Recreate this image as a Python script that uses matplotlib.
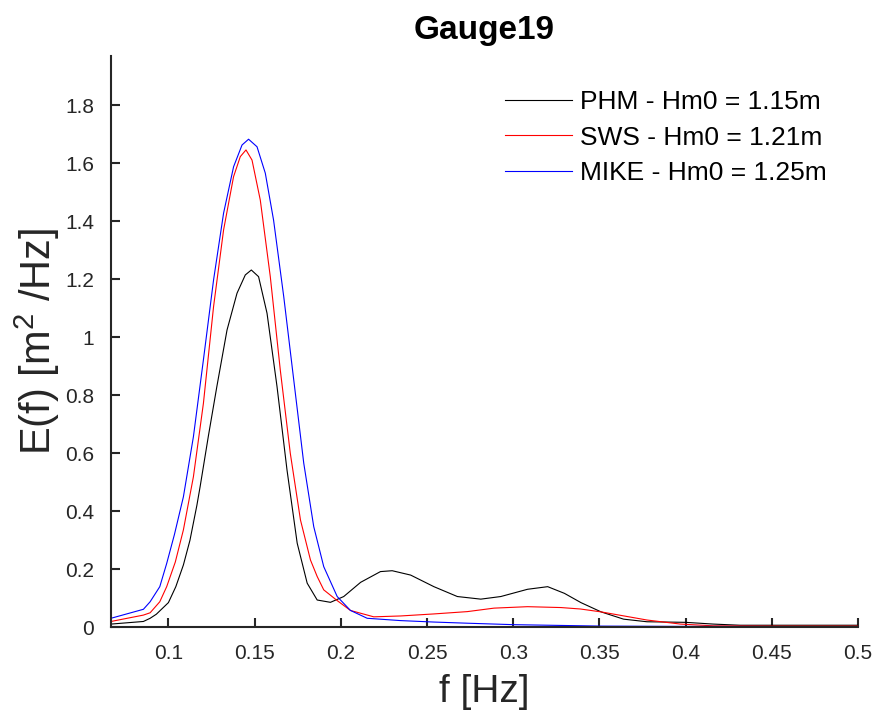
import matplotlib
matplotlib.use("Agg")
import matplotlib.pyplot as plt

plt.rcParams['font.family'] = ['Liberation Sans', 'DejaVu Sans']
plt.rcParams['mathtext.fontset'] = 'custom'
plt.rcParams['mathtext.rm'] = 'Liberation Sans'
plt.rcParams['mathtext.it'] = 'Liberation Sans'

# PHM spectrum
f_phm = [0.0667, 0.0855, 0.0894, 0.093, 0.1, 0.1043, 0.1087, 0.1125, 0.1165, 0.1184,
         0.1232, 0.1281, 0.134, 0.1398, 0.1446, 0.1481, 0.1523, 0.1572, 0.163, 0.1688,
         0.1747, 0.1805, 0.1863, 0.194, 0.2017, 0.2115, 0.223, 0.2298, 0.2405, 0.254,
         0.2676, 0.2812, 0.2928, 0.3083, 0.32, 0.3297, 0.3393, 0.351, 0.364, 0.3776,
         0.4, 0.416, 0.4316, 0.5]
e_phm = [0.011, 0.020, 0.031, 0.045, 0.085, 0.14, 0.215, 0.30, 0.42, 0.485,
         0.66, 0.83, 1.025, 1.152, 1.215, 1.232, 1.209, 1.083, 0.83, 0.542,
         0.29, 0.152, 0.094, 0.086, 0.106, 0.155, 0.192, 0.195, 0.18, 0.14,
         0.106, 0.097, 0.106, 0.131, 0.14, 0.117, 0.085, 0.053, 0.028, 0.019,
         0.017, 0.011, 0.007, 0.007]

# SWS spectrum
f_sws = [0.0667, 0.0855, 0.0894, 0.095, 0.099, 0.104, 0.1087, 0.1145, 0.1203, 0.1262,
         0.132, 0.1378, 0.1417, 0.145, 0.1485, 0.1533, 0.1591, 0.1649, 0.1707, 0.1766,
         0.1824, 0.1863, 0.1901, 0.1979, 0.2056, 0.2191, 0.2347, 0.254, 0.2734, 0.2889,
         0.3083, 0.3277, 0.339, 0.351, 0.3776, 0.397, 0.416, 0.45, 0.5]
e_sws = [0.020, 0.042, 0.050, 0.088, 0.14, 0.225, 0.336, 0.519, 0.772, 1.106,
         1.37, 1.554, 1.623, 1.646, 1.611, 1.473, 1.209, 0.887, 0.6, 0.37,
         0.232, 0.175, 0.129, 0.092, 0.058, 0.036, 0.039, 0.046, 0.054, 0.066,
         0.071, 0.068, 0.063, 0.053, 0.025, 0.011, 0.005, 0.004, 0.004]

# MIKE spectrum
f_mike = [0.0667, 0.0855, 0.0894, 0.095, 0.099, 0.1035, 0.1087, 0.1145, 0.1203, 0.1262,
          0.132, 0.1378, 0.1427, 0.1465, 0.1514, 0.1562, 0.161, 0.1669, 0.1727, 0.1785,
          0.1843, 0.1901, 0.1979, 0.2056, 0.2153, 0.2347, 0.254, 0.2734, 0.3, 0.331,
          0.351, 0.4, 0.5]
e_mike = [0.031, 0.062, 0.088, 0.14, 0.22, 0.32, 0.45, 0.657, 0.922, 1.198,
          1.428, 1.588, 1.663, 1.683, 1.657, 1.566, 1.404, 1.14, 0.853, 0.566,
          0.347, 0.209, 0.106, 0.058, 0.031, 0.023, 0.018, 0.014, 0.009, 0.006,
          0.004, 0.003, 0.002]

labels = ["PHM - Hm0 = 1.15m", "SWS - Hm0 = 1.21m", "MIKE - Hm0 = 1.25m"]
xticks = [0.1, 0.15, 0.2, 0.25, 0.3, 0.35, 0.4, 0.45, 0.5]
xticklabels = ["0.1", "0.15", "0.2", "0.25", "0.3", "0.35", "0.4", "0.45", "0.5"]
yticks = [0, 0.2, 0.4, 0.6, 0.8, 1.0, 1.2, 1.4, 1.6, 1.8]
yticklabels = ["0", "0.2", "0.4", "0.6", "0.8", "1", "1.2", "1.4", "1.6", "1.8"]

fig = plt.figure(figsize=(8.74, 7.15), dpi=100)
ax = fig.add_axes([0.1270, 0.1227, 0.8547, 0.7990])

ax.plot(f_phm, e_phm, color="black", lw=0.8, label=labels[0])
ax.plot(f_sws, e_sws, color="red", lw=0.8, label=labels[1])
ax.plot(f_mike, e_mike, color="blue", lw=0.8, label=labels[2])

ax.set_xlim(0.0667, 0.5)
ax.set_ylim(0, 1.97)
ax.set_xticks(xticks)
ax.set_xticklabels(xticklabels)
ax.set_yticks(yticks)
ax.set_yticklabels(yticklabels)

gray = "#262626"
for side in ["top", "right"]:
    ax.spines[side].set_visible(False)
for side in ["left", "bottom"]:
    ax.spines[side].set_linewidth(1.5)
    ax.spines[side].set_color(gray)
ax.tick_params(direction="in", length=6.5, width=1.5, color=gray,
               labelcolor=gray, labelsize=15, pad=12)

ax.set_xlabel("f [Hz]", fontsize=28, color=gray, labelpad=8)
ax.set_ylabel(r"E(f) [m$^2$ /Hz]", fontsize=30, color=gray, labelpad=2)
ax.set_title("Gauge19", fontsize=24, fontweight="bold", pad=12)

ax.legend(loc="upper left", bbox_to_anchor=(505 / 874, 1 - 90 / 715),
          bbox_transform=fig.transFigure, frameon=False, fontsize=19,
          handlelength=2.55, handletextpad=0.3, labelspacing=0.44,
          borderpad=0, borderaxespad=0)

fig.savefig("out.png", dpi=100)
